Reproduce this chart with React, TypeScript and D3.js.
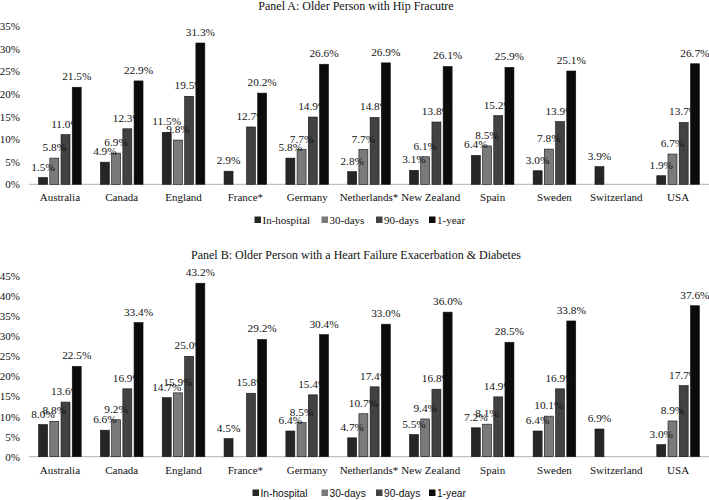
import React from "react";
import * as d3 from "d3";

const countries = ["Australia", "Canada", "England", "France*", "Germany", "Netherlands*", "New Zealand", "Spain", "Sweden", "Switzerland", "USA"];
const seriesNames = ["In-hospital", "30-days", "90-days", "1-year"];
const seriesColors = ["#262626", "#7a7a7a", "#424242", "#0b0b0b"];

const hipInHospital = [1.5, 4.9, 11.5, 2.9, 5.8, 2.8, 3.1, 6.4, 3.0, 3.9, 1.9];
const hip30 = [5.8, 6.9, 9.8, null, 7.7, 7.7, 6.1, 8.5, 7.8, null, 6.7];
const hip90 = [11.0, 12.3, 19.5, 12.7, 14.9, 14.8, 13.8, 15.2, 13.9, null, 13.7];
const hip1y = [21.5, 22.9, 31.3, 20.2, 26.6, 26.9, 26.1, 25.9, 25.1, null, 26.7];

const hfInHospital = [8.0, 6.6, 14.7, 4.5, 6.4, 4.7, 5.5, 7.2, 6.4, 6.9, 3.0];
const hf30 = [8.8, 9.2, 15.9, null, 8.5, 10.7, 9.4, 8.1, 10.1, null, 8.9];
const hf90 = [13.6, 16.9, 25.0, 15.8, 15.4, 17.4, 16.8, 14.9, 16.9, null, 17.7];
const hf1y = [22.5, 33.4, 43.2, 29.2, 30.4, 33.0, 36.0, 28.5, 33.8, null, 37.6];

const ticksA = [0, 5, 10, 15, 20, 25, 30, 35];
const ticksB = [0, 5, 10, 15, 20, 25, 30, 35, 40, 45];

const titleA = "Panel A: Older Person with Hip Fracutre";
const titleB = "Panel B: Older Person with a Heart Failure Exacerbation & Diabetes";

const SERIF = "'Liberation Serif', 'Times New Roman', serif";
const SANS = "'Liberation Sans', Arial, sans-serif";

type PanelProps = {
  title: string;
  series: (number | null)[][];
  ticks: number[];
  maxY: number;
  yTop: number;
  yBottom: number;
  titleY: number;
  catLabelY: number;
  legendY: number;
  legendFont: string;
  legendSize: number;
  legendX: number[];
};

function Panel(p: PanelProps) {
  const x0 = d3.scaleBand<string>().domain(countries).range([29, 709]).padding(0);
  const groupW = 42.6;
  const x1 = d3.scaleBand<string>().domain(seriesNames).range([0, groupW]).paddingInner(0.2);
  const y = d3.scaleLinear().domain([0, p.maxY]).range([p.yBottom, p.yTop]);
  const groupOffset = (x0.bandwidth() - groupW) / 2;

  const bars: any[] = [];
  const labels: any[] = [];
  countries.forEach((c, ci) => {
    seriesNames.forEach((s, si) => {
      const v = p.series[si][ci];
      if (v === null || v === undefined) return;
      const bx = (x0(c) as number) + groupOffset + (x1(s) as number);
      const top = y(v);
      bars.push(
        <rect key={`b${ci}-${si}`} x={bx} y={top} width={x1.bandwidth()} height={y(0) - top}
          fill={seriesColors[si]} stroke="#111" strokeWidth={0.6} />
      );
      labels.push(
        <text key={`l${ci}-${si}`} x={bx + x1.bandwidth() / 2} y={top - 7} textAnchor="middle"
          fontFamily={SERIF} fontSize={11.3} fill="#111">{v.toFixed(1) + "%"}</text>
      );
    });
  });

  return (
    <g>
      <text x={356} y={p.titleY} textAnchor="middle" fontFamily={SERIF} fontSize={12} fill="#111">{p.title}</text>
      {p.ticks.map((t) => (
        <text key={t} x={20} y={y(t) + 4} textAnchor="end" fontFamily={SERIF} fontSize={11} fill="#111">{t + "%"}</text>
      ))}
      <line x1={29} x2={709} y1={y(0)} y2={y(0)} stroke="#c0c0c0" strokeWidth={1.2} />
      {bars}
      {labels}
      {countries.map((c) => (
        <text key={c} x={(x0(c) as number) + x0.bandwidth() / 2} y={p.catLabelY} textAnchor="middle"
          fontFamily={SERIF} fontSize={11} fill="#111">{c}</text>
      ))}
      {seriesNames.map((s, i) => (
        <g key={s}>
          <rect x={p.legendX[i]} y={p.legendY - 3.5} width={6.5} height={6.5} fill={seriesColors[i]} />
          <text x={p.legendX[i] + 8} y={p.legendY + 3.8} fontFamily={p.legendFont} fontSize={p.legendSize} fill="#111">{s}</text>
        </g>
      ))}
    </g>
  );
}

export default function App() {
  return (
    <svg width={709} height={500} style={{ position: "absolute", left: 0, top: 0, background: "#fff" }}>
      <rect x={0} y={0} width={709} height={500} fill="#fff" />
      <Panel title={titleA} series={[hipInHospital, hip30, hip90, hip1y]} ticks={ticksA} maxY={35}
        yTop={26.3} yBottom={184.3} titleY={10} catLabelY={200.5} legendY={220}
        legendFont={SERIF} legendSize={11} legendX={[254.5, 321.5, 376, 429]} />
      <Panel title={titleB} series={[hfInHospital, hf30, hf90, hf1y]} ticks={ticksB} maxY={45}
        yTop={276} yBottom={456.7} titleY={259} catLabelY={474} legendY={493}
        legendFont={SANS} legendSize={10.2} legendX={[252.5, 321.5, 376, 429]} />
    </svg>
  );
}
